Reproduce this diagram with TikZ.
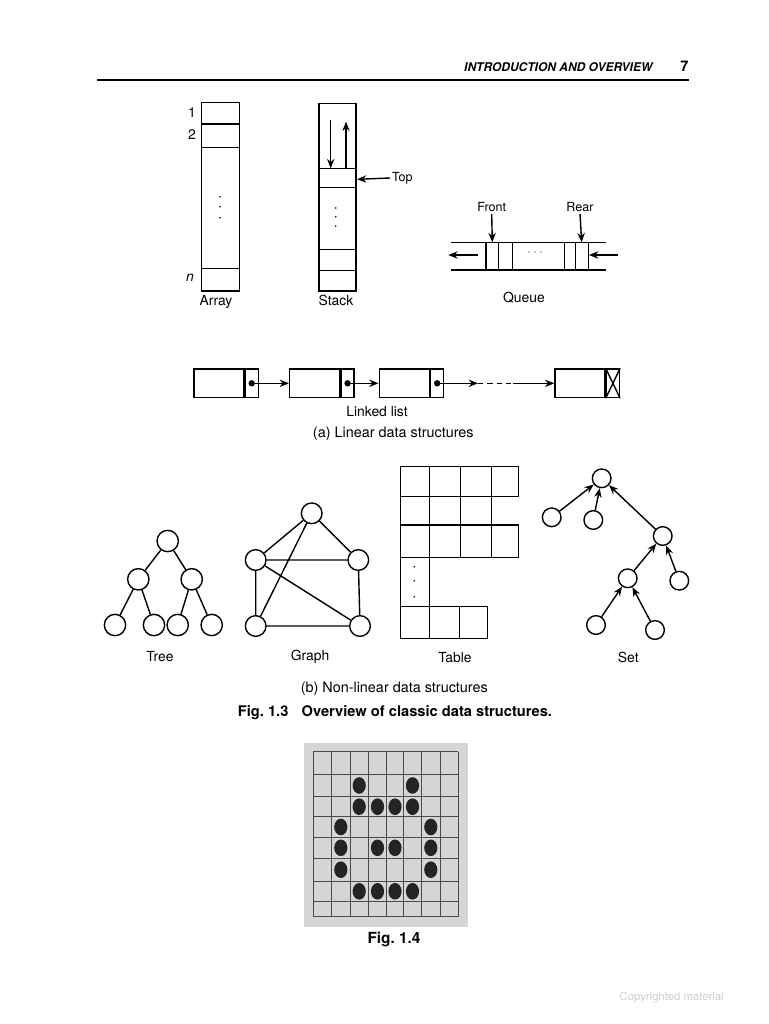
\documentclass[tikz,border=0pt]{standalone}
\usepackage{fontspec}
\setmainfont{TeX Gyre Heros}
\usepackage{xcolor}
\usepackage{tikz}
\usetikzlibrary{positioning,arrows.meta,calc}

\definecolor{figgrey}{HTML}{D6D6D6}
\definecolor{gridink}{HTML}{4A4A4A}
\definecolor{blob}{HTML}{242428}
\definecolor{wmark}{HTML}{CDCDCD}

\begin{document}
\begin{tikzpicture}[x=0.75pt, y=-0.75pt, line width=1.05pt,
  lbl/.style={inner sep=1pt, font=\fontsize{10.4}{12}\selectfont},
  small/.style={inner sep=1pt, font=\fontsize{9.4}{11}\selectfont},
  capline/.style={inner sep=1pt, font=\fontsize{10.8}{13}\selectfont},
  arr/.style={-{Stealth[length=7pt, width=5.5pt]}},
  cell/.style={draw, rectangle, inner sep=0pt, minimum width=37.5pt, minimum height=21.5pt},
  ptr/.style={draw, rectangle, inner sep=0pt, minimum width=9.75pt, minimum height=21.5pt},
  knot/.style={draw, circle, inner sep=0pt, minimum size=16pt},
  gknot/.style={draw, circle, inner sep=0pt, minimum size=15.5pt},
  sknot/.style={draw, circle, inner sep=0pt, minimum size=14pt}]
\useasboundingbox (0,0) rectangle (768,1024);

% running head
\node[inner sep=0pt, font=\fontsize{9}{11}\selectfont\bfseries\itshape] (runhead) at (558.3,67) {INTRODUCTION AND OVERVIEW};
\node[inner sep=0pt, font=\fontsize{11}{13}\selectfont\bfseries] (pageno) at (684.5,66.5) {7};
\draw[line width=1.1pt] (97,80) -- (689,80);

% array
\draw (201.7,102.7) rectangle (239.3,291);
\foreach \y in {124,147.3,268.3}
  \draw (201.7,\y) -- (239.3,\y);
\foreach \y in {196.7,206.7,217.7}
  \fill (220,\y) circle (0.9);
\node[lbl] (idx1) at (192,112.7) {1};
\node[lbl] (idx2) at (192,135) {2};
\node[lbl] (idxn) at (190,278) {\itshape n};
\node[lbl] (arraylbl) at (216,302) {Array};

% stack
\draw (319,103.3) rectangle (356,291);
\foreach \y in {168.3,187.7,249.3,270.7}
  \draw (319,\y) -- (356,\y);
\foreach \y in {208,216.7,226}
  \fill (335.7,\y) circle (0.9);
\coordinate (pushA) at (330.7,120);
\coordinate (pushB) at (330.7,168.3);
\coordinate (popA) at (346,168.3);
\coordinate (popB) at (346,121.7);
\draw[arr] (pushA) -- (pushB);
\draw[arr] (popA) -- (popB);
\node[small, anchor=west] (toplbl) at (390,178) {Top};
\coordinate (toppt) at (357,179.3);
\draw[arr] (toplbl.west) -- (toppt);
\node[lbl] (stacklbl) at (336,300) {Stack};

% queue
\draw (450.7,242.3) -- (605.7,242.3);
\draw (450.7,270) -- (605.7,270);
\foreach \x in {486,498.3,512.3,564.3,575.7,588.3}
  \draw (\x,242.3) -- (\x,270);
\foreach \x in {529,535,541}
  \fill (\x,252) circle (0.7);
\coordinate (qoutA) at (478,255);
\coordinate (qoutB) at (448.3,255);
\coordinate (qinA) at (618,255);
\coordinate (qinB) at (589,255);
\draw[arr] (qoutA) -- (qoutB);
\draw[arr] (qinA) -- (qinB);
\node[small] (front) at (491.7,207.3) {Front};
\node[small] (rear) at (580,207.3) {Rear};
\coordinate (frontpt) at (492.3,242.3);
\coordinate (rearpt) at (581.7,242.3);
\draw[arr] (front.south) -- (frontpt);
\draw[arr] (rear.south) -- (rearpt);
\node[lbl] (queuelbl) at (524,297.3) {Queue};

% linked list
\node[cell] (d1) at (218.8,383.3) {};
\node[ptr, right=0pt of d1] (p1) {};
\node[cell] (d2) at (314.7,383.3) {};
\node[ptr, right=0pt of d2] (p2) {};
\node[cell] (d3) at (404.3,383.3) {};
\node[ptr, right=0pt of d3] (p3) {};
\node[cell] (d4) at (580,383.3) {};
\node[ptr, right=0pt of d4] (p4) {};
\foreach \p in {p1,p2,p3}
  \fill (\p.center) circle (3.2);
\draw (p4.north west) -- (p4.south east) (p4.south west) -- (p4.north east);
\draw[arr] (p1.center) -- (d2.west);
\draw[arr] (p2.center) -- (d3.west);
\coordinate (gapA) at (478,383.3);
\coordinate (gapB) at (513,383.3);
\draw[arr] (p3.center) -- (gapA);
\draw[dash pattern=on 4pt off 3pt] (gapA) -- (gapB);
\draw[arr] (gapB) -- (d4.west);
\node[lbl] (listlbl) at (377,411.7) {Linked list};
\node[capline] (linearcap) at (393.3,433.3) {(a) Linear data structures};

% tree
\node[knot] (t0) at (167.7,541) {};
\node[knot] (t1) at (138.3,579.3) {};
\node[knot] (t2) at (191.7,579.3) {};
\node[knot] (t3) at (115,625) {};
\node[knot] (t4) at (154,625) {};
\node[knot] (t5) at (177.7,625) {};
\node[knot] (t6) at (211.7,625) {};
\draw (t0) -- (t1) (t0) -- (t2) (t1) -- (t3) (t1) -- (t4) (t2) -- (t5) (t2) -- (t6);
\node[lbl] (treelbl) at (160,657) {Tree};

% graph
\node[gknot] (g0) at (311.7,513.3) {};
\node[gknot] (g1) at (255.7,560) {};
\node[gknot] (g2) at (358.3,560) {};
\node[gknot] (g3) at (255.7,626) {};
\node[gknot] (g4) at (360,626) {};
\draw (g0) -- (g1) (g0) -- (g2) (g1) -- (g2) (g0) -- (g3) (g1) -- (g4)
      (g1) -- (g3) (g2) -- (g4) (g3) -- (g4);
\node[lbl] (graphlbl) at (310,657) {Graph};

% table
\draw (400.7,466.7) rectangle (518.3,496.7);
\draw (400.7,525) rectangle (518.3,557.3);
\draw (400.7,606.7) rectangle (487.3,638.3);
\draw (400.7,466.7) -- (400.7,638.3);
\foreach \x in {429.3,460.7,491.7}
  \draw (\x,466.7) -- (\x,557.3);
\draw (429.3,557.3) -- (429.3,638.3);
\draw (459.3,606.7) -- (459.3,638.3);
\foreach \y in {566.7,580.7,596.7}
  \fill (414.3,\y) circle (0.9);
\node[lbl] (tablelbl) at (455,657.3) {Table};

% set
\node[sknot] (s0) at (601.7,478.3) {};
\node[sknot] (s1) at (551.7,517.3) {};
\node[sknot] (s2) at (593.3,520) {};
\node[sknot] (s3) at (662.7,536) {};
\node[sknot] (s4) at (627.7,578.3) {};
\node[sknot] (s5) at (679.3,580.7) {};
\node[sknot] (s6) at (596,625) {};
\node[sknot] (s7) at (655,630) {};
\foreach \a/\b in {s1/s0,s2/s0,s3/s0,s4/s3,s5/s3,s6/s4,s7/s4}
  \draw[arr] (\a) -- (\b);
\node[lbl] (setlbl) at (628.3,657.3) {Set};

\node[capline] (nonlinearcap) at (394.3,689) {(b) Non-linear data structures};
\node[inner sep=1pt, font=\fontsize{11}{13}\selectfont\bfseries] (figthree) at (395,713) {Fig.~1.3\hspace{0.9em}Overview of classic data structures.};

% fig 1.4
\fill[figgrey] (304,742.7) rectangle (468.3,926.7);
\foreach \x in {313.3,331.7,350,368.3,386.7,403.3,421.7,440,458.3}
  \draw[gridink, line width=0.75pt] (\x,751.7) -- (\x,916.7);
\foreach \y in {751.7,774.3,796.7,816.7,837.3,858.3,881,901.7,916.7}
  \draw[gridink, line width=0.75pt] (313.3,\y) -- (458.3,\y);
\foreach \x/\y in {359.2/785.5,412.5/785.5,
                   359.2/806.7,377.5/806.7,395/806.7,412.5/806.7,
                   340.8/827,430.8/827,
                   340.8/847.8,377.5/847.8,395/847.8,430.8/847.8,
                   340.8/869.7,430.8/869.7,
                   359.2/891.3,377.5/891.3,395/891.3,412.5/891.3}
  \fill[blob] (\x,\y) ellipse (6.6 and 8.3);
\node[inner sep=1pt, font=\fontsize{11.5}{13}\selectfont\bfseries] (figfour) at (394,939) {Fig.~1.4};

\node[inner sep=0pt, text=wmark, font=\fontsize{8.5}{10}\selectfont] (wm) at (671.7,997) {Copyrighted material};
\end{tikzpicture}
\end{document}
